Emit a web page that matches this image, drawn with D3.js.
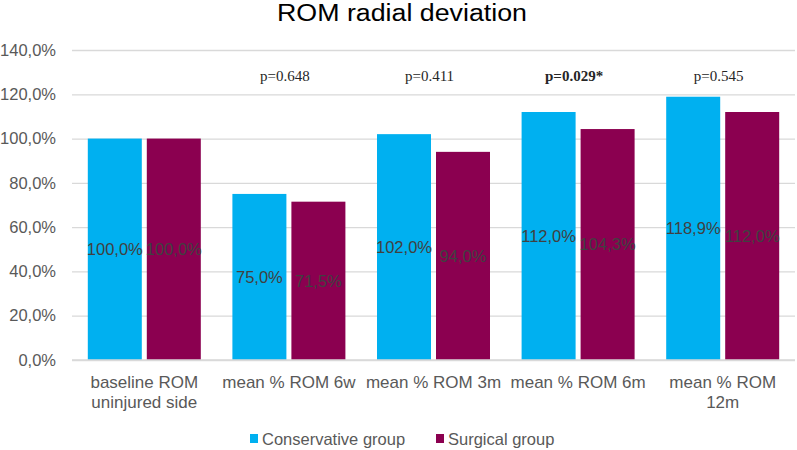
<!DOCTYPE html>
<html><head><meta charset="utf-8">
<script src="https://cdn.jsdelivr.net/npm/d3@7"></script>
<style>body{margin:0;background:#fff}svg{display:block}</style>
</head><body><svg id="c" width="797" height="450"></svg>
<script>
const categories = [["baseline ROM","uninjured side"],["mean % ROM 6w"],["mean % ROM 3m"],["mean % ROM 6m"],["mean % ROM","12m"]];
const seriesNames = ["Conservative group","Surgical group"];
const conservative = [100.0, 75.0, 102.0, 112.0, 118.9];
const surgical = [100.0, 71.5, 94.0, 104.3, 112.0];
const pValues = ["p=0.648","p=0.411","p=0.029*","p=0.545"];
const pBold = [false,false,true,false];
const yTicks = [0,20,40,60,80,100,120,140];
const colors = ["#00B0F0","#8B0050"];

const svg = d3.select("#c");
const L=72, R=795, T=50, B=360;
const x = d3.scaleBand().domain(d3.range(categories.length)).range([L,R]).paddingInner(0).paddingOuter(0);
const y = d3.scaleLinear().domain([0,140]).range([B,T]);
const barW = 54, gap = 5;
const fmt = v => d3.format(".1f")(v).replace(".",",") + "%";
const SANS = "Liberation Sans, Arial, sans-serif";

svg.append("text").attr("x",277).attr("y",21)
  .attr("font-family",SANS).attr("font-size",23).attr("fill","#000")
  .attr("textLength",250).attr("lengthAdjust","spacingAndGlyphs")
  .text("ROM radial deviation");

const yAxis = d3.axisLeft(y).tickValues(yTicks).tickSize(-(R-L)).tickFormat(fmt);
const ga = svg.append("g").attr("transform",`translate(${L},0)`).call(yAxis);
ga.select(".domain").remove();
ga.selectAll(".tick line").attr("stroke","#D9D9D9").attr("stroke-width",1.3);
ga.selectAll(".tick text").attr("x",-16).attr("font-family",SANS)
  .attr("font-size",16.5).attr("fill","#595959");

const series = [conservative, surgical];
series.forEach((vals,si)=>{
  const g = svg.append("g");
  g.selectAll("rect").data(vals).join("rect")
    .attr("x",(d,i)=>x(i)+x.bandwidth()/2 + (si===0 ? -(barW+gap/2) : gap/2))
    .attr("y",d=>y(d)).attr("width",barW).attr("height",d=>B-y(d)).attr("fill",colors[si]);
  g.selectAll("text").data(vals).join("text")
    .attr("x",(d,i)=>x(i)+x.bandwidth()/2 + (si===0 ? -(barW+gap/2) : gap/2) + barW/2)
    .attr("y",d=>(y(d)+B)/2).attr("dy","0.35em").attr("text-anchor","middle")
    .attr("font-family",SANS).attr("font-size",16.5).attr("fill","#404040")
    .text(fmt);
});

svg.append("line").attr("x1",L).attr("x2",R).attr("y1",B).attr("y2",B).attr("stroke","#D9D9D9").attr("stroke-width",1.3);

categories.forEach((lines,i)=>{
  const cx = x(i)+x.bandwidth()/2;
  const t = svg.append("text").attr("x",cx).attr("y",388).attr("text-anchor","middle")
    .attr("font-family",SANS).attr("font-size",17).attr("fill","#595959");
  lines.forEach((s,j)=>t.append("tspan").attr("x",cx).attr("dy",j?20:0).text(s));
});

pValues.forEach((p,k)=>{
  svg.append("text").attr("x",x(k+1)+x.bandwidth()/2-4).attr("y",81).attr("text-anchor","middle")
    .attr("font-family","Liberation Serif, Times New Roman, serif").attr("font-size",15)
    .attr("font-weight",pBold[k]?"bold":"normal").attr("fill","#262626").text(p);
});

const leg = [{n:seriesNames[0],c:colors[0],x:250},{n:seriesNames[1],c:colors[1],x:436}];
leg.forEach(l=>{
  svg.append("rect").attr("x",l.x).attr("y",434).attr("width",8).attr("height",9).attr("fill",l.c);
  svg.append("text").attr("x",l.x+12).attr("y",445).attr("font-family",SANS)
    .attr("font-size",16.5).attr("fill","#595959").text(l.n);
});
</script></body></html>
